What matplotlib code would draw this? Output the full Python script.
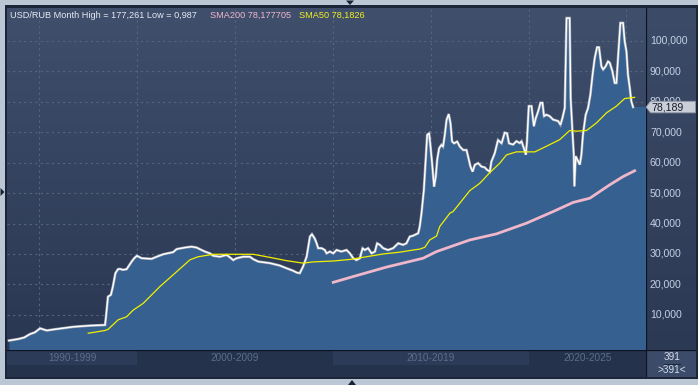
import numpy as np
import matplotlib
matplotlib.use("Agg")
import matplotlib.pyplot as plt
from matplotlib.colors import LinearSegmentedColormap
from matplotlib.patches import Rectangle, Polygon

plt.rcParams['font.family'] = ['Liberation Sans', 'DejaVu Sans']

# ---------------- data (decimal years, RUB per USD) ----------------
price_t = [1993.45, 1993.93, 1994.23, 1994.52, 1994.78, 1995.04, 1995.38, 1995.80, 1996.74, 1997.59,
           1998.36, 1998.41, 1998.51, 1998.66, 1998.76, 1998.89, 1999.02, 1999.12, 1999.27, 1999.46,
           1999.72, 1999.85, 1999.99, 2000.23, 2000.74, 2001.00, 2001.33, 2001.84, 2002.02, 2002.44,
           2002.78, 2003.04, 2003.29, 2003.46, 2003.72, 2003.89, 2004.23, 2004.57, 2004.74, 2004.91,
           2005.08, 2005.42, 2005.76, 2005.93, 2006.19, 2006.78, 2007.29, 2007.64, 2007.97, 2008.15,
           2008.31, 2008.48, 2008.66, 2008.83, 2008.93, 2009.08, 2009.17, 2009.25, 2009.42, 2009.59,
           2009.68, 2009.85, 2010.02, 2010.19, 2010.44, 2010.70, 2010.87, 2011.04, 2011.21, 2011.38,
           2011.52, 2011.63, 2011.80, 2011.98, 2012.15, 2012.26, 2012.40, 2012.57, 2012.82, 2013.08,
           2013.34, 2013.59, 2013.76, 2013.93, 2014.10, 2014.36, 2014.44, 2014.53, 2014.65, 2014.75,
           2014.82, 2014.92, 2014.99, 2015.07, 2015.17, 2015.26, 2015.33, 2015.43, 2015.55, 2015.63,
           2015.72, 2015.81, 2015.92, 2016.01, 2016.09, 2016.20, 2016.35, 2016.49, 2016.66, 2016.83,
           2016.91, 2017.03, 2017.14, 2017.25, 2017.42, 2017.59, 2017.76, 2017.88, 2018.02, 2018.10,
           2018.27, 2018.44, 2018.62, 2018.78, 2018.90, 2019.00, 2019.21, 2019.38, 2019.55, 2019.64,
           2019.81, 2019.86, 2019.92, 2020.01, 2020.15, 2020.27, 2020.37, 2020.49, 2020.61, 2020.71,
           2020.79, 2020.91, 2021.08, 2021.25, 2021.51, 2021.63, 2021.73, 2021.85, 2021.94, 2022.10,
           2022.15, 2022.24, 2022.31, 2022.34, 2022.41, 2022.53, 2022.62, 2022.70, 2022.78, 2022.92,
           2023.04, 2023.16, 2023.27, 2023.38, 2023.50, 2023.60, 2023.72, 2023.81, 2023.94, 2024.06,
           2024.15, 2024.28, 2024.40, 2024.49, 2024.57, 2024.69, 2024.83, 2024.91, 2025.00, 2025.08,
           2025.17, 2025.25, 2025.34]
price_v = [1.6, 2.1, 2.6, 3.7, 4.3, 5.6, 4.9, 5.3, 6.1, 6.5,
           6.7, 9.5, 16.0, 16.6, 19.3, 23.7, 25.0, 25.1, 24.8, 25.0,
           27.5, 28.6, 29.4, 28.6, 28.4, 29.1, 29.9, 30.6, 31.6, 32.1,
           32.4, 32.1, 31.3, 30.8, 30.2, 29.4, 29.1, 29.7, 28.9, 28.0,
           28.6, 29.1, 29.1, 28.3, 27.5, 27.0, 26.2, 25.3, 24.5, 23.9,
           23.7, 25.9, 29.1, 35.7, 36.5, 35.0, 33.5, 31.9, 31.9, 31.3,
           30.2, 30.8, 30.2, 31.3, 30.8, 31.3, 30.2, 28.6, 28.0, 28.6,
           31.9, 31.3, 31.9, 30.2, 30.8, 33.5, 33.0, 31.9, 31.3, 31.9,
           33.5, 33.0, 33.5, 35.7, 36.0, 36.8, 39.0, 43.4, 51.0, 61.9,
           69.1, 69.6, 65.2, 59.8, 52.1, 55.4, 60.9, 64.7, 65.8, 65.2,
           69.1, 74.0, 75.9, 72.9, 66.9, 66.3, 66.9, 65.2, 64.1, 64.1,
           61.9, 58.7, 57.0, 59.2, 59.8, 58.7, 58.4, 57.6, 57.0, 60.3,
           63.0, 67.4, 66.3, 69.8, 69.6, 66.3, 65.9, 67.0, 66.4, 67.0,
           63.7, 62.6, 67.0, 78.5, 78.5, 71.9, 74.6, 76.8, 79.6, 79.6,
           75.2, 75.7, 75.2, 74.1, 73.6, 72.4, 74.6, 77.9, 107.4, 107.4,
           81.2, 70.3, 62.6, 52.2, 62.1, 60.4, 59.3, 62.6, 69.2, 75.7,
           77.9, 82.3, 88.8, 94.3, 97.8, 97.8, 91.6, 90.5, 91.6, 93.2,
           92.7, 90.0, 86.1, 86.1, 94.3, 105.8, 105.8, 99.8, 96.5, 88.8,
           84.5, 80.1, 78.2]

sma50_t = [1997.50, 1998.36, 1998.52, 1999.03, 1999.46, 1999.80, 2000.31, 2001.16, 2002.02, 2002.70,
           2003.12, 2003.89, 2005.93, 2006.61, 2007.64, 2008.48, 2008.99, 2010.02, 2010.87, 2011.72,
           2012.57, 2013.42, 2014.10, 2014.44, 2014.70, 2014.95, 2015.30, 2015.46, 2015.98, 2016.14,
           2016.49, 2017.00, 2017.51, 2018.02, 2018.53, 2018.87, 2019.38, 2020.32, 2020.74, 2021.59,
           2022.10, 2022.45, 2022.96, 2023.47, 2023.98, 2024.49, 2024.91, 2025.42]
sma50_v = [4.0, 4.9, 5.3, 8.4, 9.4, 11.6, 13.8, 19.3, 24.2, 28.1,
           29.1, 29.9, 29.9, 29.1, 27.8, 27.0, 27.4, 27.7, 28.2, 29.1,
           30.0, 30.6, 31.3, 31.6, 32.2, 34.6, 35.9, 39.0, 43.4, 43.9,
           46.7, 50.8, 53.2, 56.7, 59.8, 62.5, 63.5, 63.5, 64.8, 67.5,
           70.5, 70.3, 70.5, 73.0, 76.3, 78.5, 81.0, 81.4]

sma200_t = [2010.02, 2011.04, 2012.74, 2014.61, 2015.30, 2017.00, 2018.36, 2019.89, 2021.25, 2022.27,
            2023.13, 2024.15, 2024.83, 2025.42]
sma200_v = [20.7, 22.6, 25.7, 28.6, 30.8, 34.6, 36.6, 40.1, 43.9, 46.9,
            48.3, 52.7, 55.4, 57.3]

y_ticks = [10, 20, 30, 40, 50, 60, 70, 80, 90, 100]
x_grid_years = [1995, 2000, 2005, 2010, 2015, 2020, 2025]
decade_labels = ["1990-1999", "2000-2009", "2010-2019", "2020-2025"]
decade_bounds = [1990, 2000, 2010, 2020, 2030]

header_main = "USD/RUB Month High = 177,261 Low = 0,987"
header_sma200 = "SMA200 78,177705"
header_sma50 = "SMA50 78,1826"
last_label = "78,189"

# ---------------- layout ----------------
W, H = 698, 385
fig = plt.figure(figsize=(W / 100, H / 100), dpi=100, facecolor="#bcc7d5")

def fax(x0, y0, x1, y1):
    return fig.add_axes([x0 / W, 1 - y1 / H, (x1 - x0) / W, (y1 - y0) / H])

def fpx(x, y):
    return x / W, 1 - y / H

XMIN, XMAX = 1993.35, 2026.0
YMIN, YMAX = -1.5, 110.7

# outer panel frame
frame = fig.add_axes([5 / W, 1 - 379 / H, 693 / W, 374 / H])
frame.set_facecolor("#1c2638")
frame.set_xticks([]); frame.set_yticks([])
for s in frame.spines.values():
    s.set_visible(False)

ax = fax(7, 8, 646, 350)
grad = np.linspace(0, 1, 256).reshape(-1, 1)
cm_bg = LinearSegmentedColormap.from_list("bg", ["#3f4f6c", "#2a3752"])
ax.imshow(grad, extent=[0, 1, 0, 1], transform=ax.transAxes, aspect="auto",
          cmap=cm_bg, zorder=0)
ax.set_xlim(XMIN, XMAX)
ax.set_ylim(YMIN, YMAX)
for yv in y_ticks:
    ax.axhline(yv, color="#56657f", lw=0.8, ls=(0, (2, 3)), zorder=1)
for xv in x_grid_years:
    ax.axvline(xv, color="#56657f", lw=0.8, ls=(0, (2, 3)), zorder=1)

fill_col = "#36608f"
ax.fill_between(price_t, price_v, YMIN, color=fill_col, lw=0, zorder=2)
ax.fill_between([price_t[-1], XMAX], [price_v[-1]] * 2, YMIN, color=fill_col, lw=0, zorder=2)
ax.plot(price_t, price_v, color="#9aa2b2", lw=1.9, zorder=3, solid_joinstyle="miter")
ax.plot(price_t, price_v, color="#ffffff", lw=1.0, zorder=4, solid_joinstyle="miter")
ax.plot(sma50_t, sma50_v, color="#f2f000", lw=0.9, zorder=5)
ax.plot(sma200_t, sma200_v, color="#f0b6ca", lw=2.0, zorder=5)
ax.set_xticks([]); ax.set_yticks([])
for s in ax.spines.values():
    s.set_visible(False)

fig.text(*fpx(10, 15.5), header_main, color="#e6eaf2", fontsize=6.6, va="center", ha="left")
fig.text(*fpx(210, 15.5), header_sma200, color="#f2b8cc", fontsize=6.6, va="center", ha="left")
fig.text(*fpx(299, 15.5), header_sma50, color="#f2f020", fontsize=6.6, va="center", ha="left")

# right axis panel
rax = fax(646, 8, 696, 350)
cm_r = LinearSegmentedColormap.from_list("r", ["#3c4b68", "#2c3954"])
rax.imshow(grad, extent=[0, 1, 0, 1], transform=rax.transAxes, aspect="auto", cmap=cm_r, zorder=0)
rax.set_xlim(0, 1)
rax.set_ylim(YMIN, YMAX)
rax.set_xticks([]); rax.set_yticks([])
for s in rax.spines.values():
    s.set_visible(False)
rax.axvline(0, color="#0c1220", lw=1.6)
lv = price_v[-1]
for yv in y_ticks:
    rax.text(0.08, yv, f"{yv},000", color="#c4d0e4", fontsize=7.6, va="center", ha="left", zorder=2)

# last-price marker (covers the 80,000 label, as in the original)
poly = Polygon([[0.0, lv], [0.09, lv + 1.9], [0.99, lv + 1.9], [0.99, lv - 1.9], [0.09, lv - 1.9]],
               closed=True, facecolor="#c9ced8", edgecolor="#8a92a2", lw=0.6, zorder=5)
rax.add_patch(poly)
rax.text(0.11, lv, last_label, color="#141a28", fontsize=7.6, va="center", ha="left", zorder=6)

# bottom time bar
bax = fax(7, 350, 646, 377)
bax.set_facecolor("#24324c")
bax.set_xlim(XMIN, XMAX)
bax.set_ylim(0, 1)
bax.set_xticks([]); bax.set_yticks([])
for s in bax.spines.values():
    s.set_visible(False)
bax.axhline(1, color="#0c1220", lw=1.6)
for i, lab in enumerate(decade_labels):
    a = max(decade_bounds[i], XMIN)
    b = min(decade_bounds[i + 1], XMAX)
    if i % 2 == 0:
        bax.add_patch(Rectangle((a, 0.44), b - a, 0.52, facecolor="#2c3b57", lw=0, zorder=1))
    bax.text((a + b) / 2, 0.7, lab, color="#5e6d88", fontsize=7.2, ha="center", va="center", zorder=2)

# bottom-right counter box
cax = fax(646, 350, 696, 377)
cax.set_facecolor("#3c4b69")
cax.set_xlim(0, 1); cax.set_ylim(0, 1)
cax.set_xticks([]); cax.set_yticks([])
for s in cax.spines.values():
    s.set_visible(False)
cax.axvline(0, color="#0c1220", lw=1.6)
cax.axhline(1, color="#0c1220", lw=1.6)
cax.text(0.52, 0.74, "391", color="#d4dcec", fontsize=7.2, ha="center", va="center")
cax.plot([0.36, 0.68], [0.5, 0.5], color="#1e2840", lw=0.8)
cax.text(0.52, 0.25, ">391<", color="#d4dcec", fontsize=7.2, ha="center", va="center")

# small navigation triangles
fig.patches.append(Polygon([[346 / W, 1 - 0.5 / H], [354 / W, 1 - 0.5 / H], [350 / W, 1 - 5 / H]],
                           closed=True, transform=fig.transFigure, facecolor="#1a2438", edgecolor="none"))
fig.patches.append(Polygon([[348 / W, 1 - 385 / H], [356 / W, 1 - 385 / H], [352 / W, 1 - 380 / H]],
                           closed=True, transform=fig.transFigure, facecolor="#1a2438", edgecolor="none"))
fig.patches.append(Polygon([[0.5 / W, 1 - 188 / H], [0.5 / W, 1 - 196 / H], [4.5 / W, 1 - 192 / H]],
                           closed=True, transform=fig.transFigure, facecolor="#1a2438", edgecolor="none"))

fig.savefig("out.png", dpi=100, facecolor=fig.get_facecolor())
